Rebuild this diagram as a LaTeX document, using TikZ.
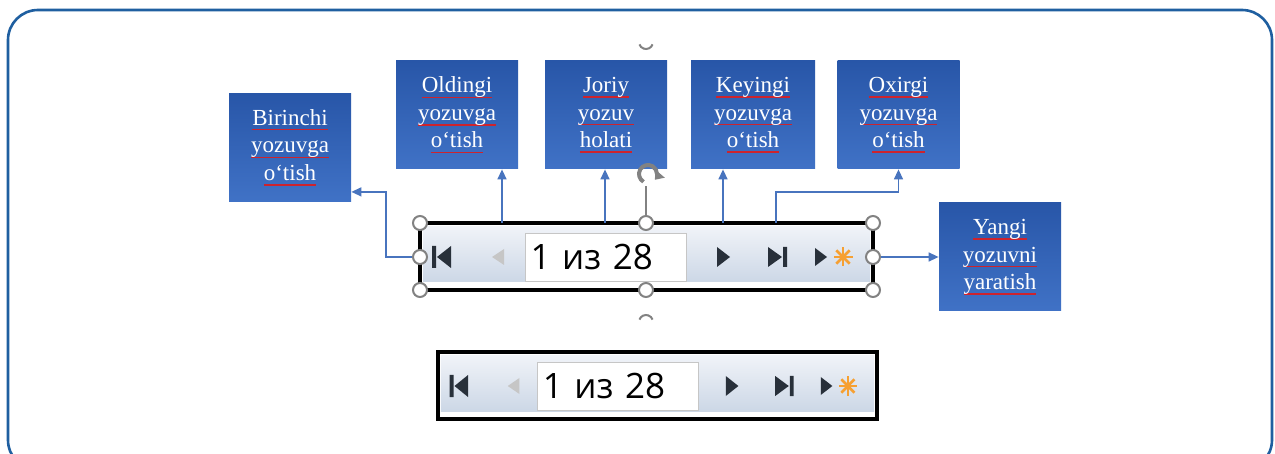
\documentclass[tikz,border=0pt]{standalone}
\usepackage{fontspec}
\setmainfont{Liberation Serif}
\newfontfamily\uifont{Open Sans}
\usetikzlibrary{arrows.meta,positioning,calc}
\definecolor{frameblue}{RGB}{31,95,160}
\definecolor{boxtop}{RGB}{40,86,168}
\definecolor{boxbot}{RGB}{64,114,198}
\definecolor{linkblue}{RGB}{72,116,190}
\definecolor{spellred}{RGB}{205,35,45}
\definecolor{barlight}{RGB}{240,243,248}
\definecolor{bardark}{RGB}{204,215,230}
\definecolor{icondark}{RGB}{40,48,58}
\definecolor{staror}{RGB}{246,160,50}
\definecolor{handlegray}{RGB}{130,130,130}

% red spell-check line under a word
\newcommand\spell[1]{\setbox0\hbox{#1}\leavevmode\rlap{\textcolor{spellred}{\rule[-2.6pt]{\wd0}{0.7pt}}}\box0}

% record navigator strip, drawn in local pixel coordinates
\newcommand\navbar[2]{%
  \fill[white] (0,0) rectangle (453,67);
  \fill[top color=barlight, bottom color=bardark] (3,4) rectangle (450,59);
  \node[numbox] (#1box) at (185.5,34) {1 из 28};
  \fill[icondark] (12,23) rectangle (16,45) (17,34) -- (31,23) -- (31,45) -- cycle;
  \fill[gray!45] (72,34) -- (84,26) -- (84,42) -- cycle;
  \fill[icondark] (297,24) -- (310,34) -- (297,44) -- cycle;
  \fill[icondark] (348,24) -- (362,34) -- (348,44) -- cycle (363,24) rectangle (367,44);
  \fill[icondark] (395,25) -- (407,34) -- (395,43) -- cycle;
  \foreach \a in {0,45,...,315}
    \draw[staror, line width=1.3pt] (423,34) -- ++(\a:9.5);
  \fill[staror] (423,34) circle[radius=3.5];
  \draw[black, line width=#2] (0,0) rectangle (453,67);
}

\begin{document}
\begin{tikzpicture}[x=0.5pt, y=-0.5pt,
  navbox/.style={rectangle, top color=boxtop, bottom color=boxbot, draw=none, minimum width=61pt, minimum height=54pt, text width=54pt, align=center, text=white, font=\fontsize{11.5}{13.8}\selectfont},
  numbox/.style={rectangle, draw=gray!45, fill=white, minimum width=80.5pt, minimum height=24pt, text width=75pt, inner xsep=2.8pt, align=left, font=\uifont\fontsize{17.5}{19}\selectfont},
  handle/.style={circle, draw=handlegray, fill=white, line width=1pt, minimum size=7pt, inner sep=0pt},
  link/.style={draw=linkblue, line width=0.7pt, -{Triangle[width=4.5pt,length=5pt]}},
]
\useasboundingbox (0,0) rectangle (1275,454);
\fill[white] (0,0) rectangle (1275,454);
\draw[frameblue, line width=1.3pt, rounded corners=15pt] (8,10) rectangle (1272,470);

% labels
\node[navbox] (first) at (290,147.5) {\spell{Birinchi}\\ \spell{yozuvga}\\ \spell{o‘tish}};
\node[navbox] (prev) at (457,115) {\spell{Oldingi}\\ \spell{yozuvga}\\ \spell{o‘tish}};
\node[navbox] (curr) at (606,115) {\spell{Joriy}\\ \spell{yozuv}\\ \spell{holati}};
\node[navbox, minimum width=62pt] (next) at (753,115) {\spell{Keyingi}\\ \spell{yozuvga}\\ \spell{o‘tish}};
\node[navbox] (last) at (898.5,115) {\spell{Oxirgi}\\ \spell{yozuvga}\\ \spell{o‘tish}};
\node[navbox] (new) at (1000,257) {\spell{Yangi}\\ \spell{yozuvni}\\ \spell{yaratish}};

% selected navigator
\begin{scope}[shift={(420,223)}]
  \navbar{up}{1.6pt}
\end{scope}
\coordinate (tPrev) at (502,223);
\coordinate (tCurr) at (605,223);
\coordinate (tNext) at (723,223);
\coordinate (tLast) at (776,223);
\draw[link] (tPrev) -- (tPrev |- prev.south);
\draw[link] (tCurr) -- (tCurr |- curr.south);
\draw[link] (tNext) -- (tNext |- next.south);
\draw[link] (tLast) -- ++(0,-31) -| (last.south);

% rotation handle
\draw[handlegray, line width=1pt] (646,216) -- (646,186);
\draw[handlegray, line width=2pt, -{Triangle[width=6pt,length=4pt]}] (648,174) ++(120:9) arc[start angle=120, end angle=400, radius=9];
\draw[handlegray, line width=1pt] (646,42) ++(20:7) arc[start angle=20, end angle=160, radius=7];
\draw[handlegray, line width=1pt] (646,322) ++(200:7) arc[start angle=200, end angle=340, radius=7];

\node[handle] (hNW) at (420,223) {};
\node[handle] (hN) at (646,223) {};
\node[handle] (hNE) at (873,223) {};
\node[handle] (hW) at (420,257) {};
\node[handle] (hE) at (873,257) {};
\node[handle] (hSW) at (420,290) {};
\node[handle] (hS) at (646,290) {};
\node[handle] (hSE) at (873,290) {};
\draw[link] (hW.west) -- ++(-26,0) |- ([yshift=5pt]first.south east);
\draw[link] (hE.east) -- (new.west);

% plain navigator
\begin{scope}[shift={(438,352)}, xscale=0.969]
  \navbar{lo}{2.2pt}
\end{scope}
\end{tikzpicture}
\end{document}
